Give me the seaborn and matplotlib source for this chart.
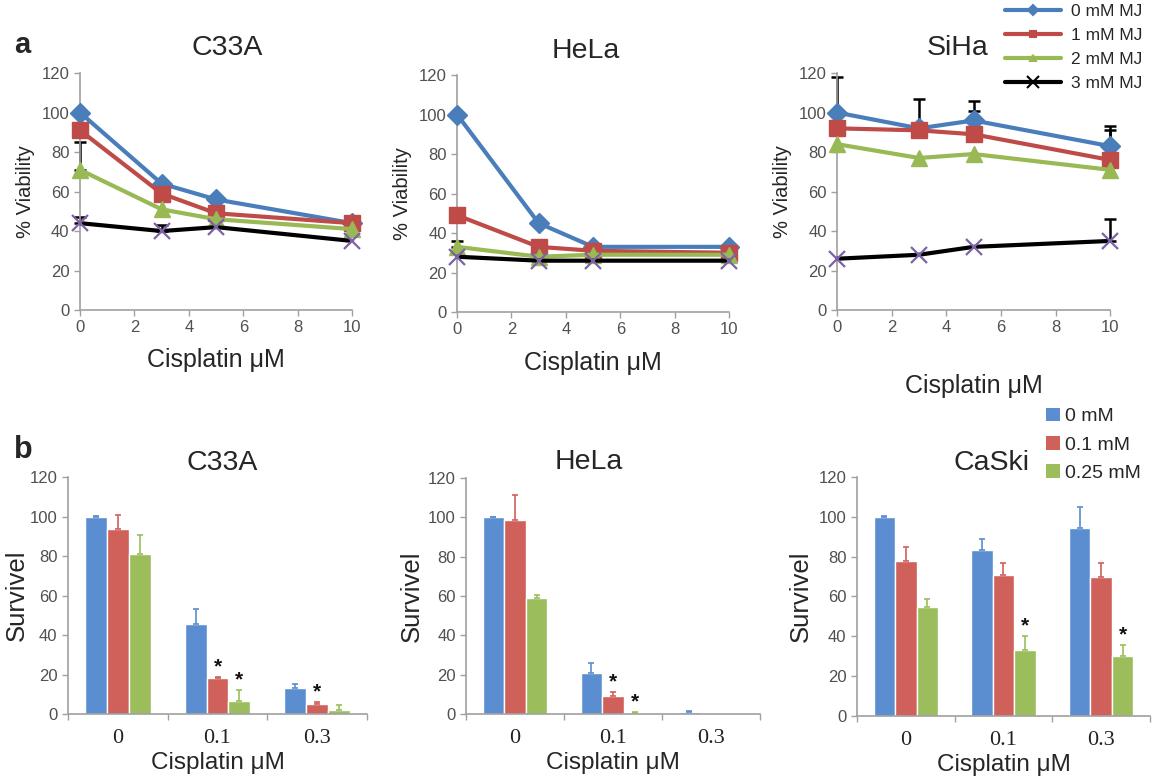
import numpy as np
import pandas as pd
import matplotlib
matplotlib.use("Agg")
import matplotlib.pyplot as plt
from matplotlib.lines import Line2D
from matplotlib.patches import Patch
from matplotlib.container import BarContainer
import seaborn as sns

# ---------------- data: panel a (viability, line charts) ----------------
cis_a = [0, 3, 5, 10]
mj_labels = ["0 mM MJ", "1 mM MJ", "2 mM MJ", "3 mM MJ"]

c33a_0 = [100, 64, 56, 44]
c33a_1 = [91, 59, 49, 44]
c33a_2 = [71, 51, 46, 41]
c33a_3 = [44, 40, 42, 35]
c33a_err = [[0, 0, 0, 0], [0, 0, 0, 0], [14, 0, 0, 0], [3, 3, 0, 0]]

hela_0 = [100, 45, 33, 33]
hela_1 = [49, 33, 31, 30]
hela_2 = [33, 28, 29, 29]
hela_3 = [28, 26, 26, 26]
hela_err = [[0, 0, 0, 0], [0, 0, 0, 0], [3, 0, 0, 0], [0, 0, 0, 0]]

siha_0 = [100, 92, 96, 83]
siha_1 = [92, 91, 89, 76]
siha_2 = [84, 77, 79, 71]
siha_3 = [26, 28, 32, 35]
siha_err = [[18, 15, 10, 10], [0, 0, 12, 15], [0, 0, 0, 0], [0, 0, 0, 11]]

# ---------------- data: panel b (survival, bar charts) ----------------
cis_b = ["0", "0.1", "0.3"]
conc_labels = ["0 mM", "0.1 mM", "0.25 mM"]

b_c33a = [[100, 45.5, 13], [93.5, 18, 5], [81, 6.7, 1.8]]
b_c33a_err = [[0.3, 7.5, 2.2], [7.5, 0.8, 0.9], [9.5, 5.5, 2.6]]
b_c33a_star = [[0, 0, 0], [0, 1, 1], [0, 1, 0]]

b_hela = [[100, 20.8, 0.9], [98.5, 9, 0.2], [59, 0.5, 0.1]]
b_hela_err = [[0.3, 5, 0.5], [13, 2, 0], [1.5, 0.5, 0]]
b_hela_star = [[0, 0, 0], [0, 1, 0], [0, 1, 0]]

b_caski = [[100, 83.5, 94.5], [77.8, 71, 69.8], [54.6, 33.3, 30]]
b_caski_err = [[0.3, 5.5, 10.5], [7, 5.8, 7], [4, 6.7, 5.5]]
b_caski_star = [[0, 0, 0], [0, 0, 0], [0, 1, 1]]

# ---------------- style ----------------
sns.set_theme(style="ticks")
plt.rcParams["font.family"] = ["Liberation Sans", "DejaVu Sans"]

line_colors = ["#4A7EBB", "#BE4B48", "#98B954", "#000000"]
line_markers = ["D", "s", "^", "x"]
marker_sizes = [10, 12, 11, 12]
xmark_color = "#7E62A6"
bar_colors = ["#5A8ED0", "#D0605A", "#9BBD5C"]
axis_gray = "#A0A0A0"
tick_gray = "#505050"

fig = plt.figure(figsize=(11.53, 7.83), dpi=100)

top_rects = [[0.0694, 0.604, 0.236, 0.3027],
             [0.3964, 0.6015, 0.236, 0.3027],
             [0.726, 0.604, 0.2368, 0.3027]]
bot_rects = [[0.059, 0.0881, 0.2593, 0.3027],
             [0.4042, 0.0881, 0.255, 0.3014],
             [0.7433, 0.0856, 0.254, 0.3052]]


def style_axes(ax):
    for s in ["top", "right"]:
        ax.spines[s].set_visible(False)
    for s in ["left", "bottom"]:
        ax.spines[s].set_color(axis_gray)
        ax.spines[s].set_linewidth(1.2)
    ax.tick_params(axis="both", colors=axis_gray, labelcolor=tick_gray,
                   direction="out", length=4, width=1.0, labelsize=12)


top_sets = [
    ("C33A", [c33a_0, c33a_1, c33a_2, c33a_3], c33a_err, (0.54, 1.105), 9),
    ("HeLa", [hela_0, hela_1, hela_2, hela_3], hela_err, (0.474, 1.10), 10),
    ("SiHa", [siha_0, siha_1, siha_2, siha_3], siha_err, (0.44, 1.105), 28),
]

for rect, (name, series, errs, tpos, lpad) in zip(top_rects, top_sets):
    ax = fig.add_axes(rect)
    x = np.array(cis_a, dtype=float)
    for i, vals in enumerate(series):
        mec = xmark_color if line_markers[i] == "x" else line_colors[i]
        sns.lineplot(x=x, y=vals, ax=ax, color=line_colors[i], lw=3.0,
                     marker=line_markers[i], markersize=marker_sizes[i],
                     mec=mec, mfc=line_colors[i], mew=1.6 if line_markers[i] == "x" else 1,
                     clip_on=False, zorder=3 + i * 0.1, legend=False)
    for i, vals in enumerate(series):
        e = np.array(errs[i], dtype=float)
        m = e > 0
        if m.any():
            ax.errorbar(x[m], np.array(vals)[m], yerr=[np.zeros(m.sum()), e[m]],
                        fmt="none", ecolor="black", elinewidth=1.8, capsize=4,
                        capthick=1.8, zorder=2.5, clip_on=False)
    ax.set_xlim(0, 10)
    ax.set_ylim(0, 120)
    ax.set_xticks([0, 2, 4, 6, 8, 10])
    ax.set_yticks([0, 20, 40, 60, 80, 100, 120])
    style_axes(ax)
    ax.set_xlabel("Cisplatin \u03bcM", fontsize=18, labelpad=lpad)
    ax.set_ylabel("% Viability", fontsize=14.5, labelpad=5)
    ax.text(tpos[0], tpos[1], name, transform=ax.transAxes, ha="center",
            va="center", fontsize=20.5)

bot_sets = [
    ("C33A", b_c33a, b_c33a_err, b_c33a_star, (0.515, 1.06), 1),
    ("HeLa", b_hela, b_hela_err, b_hela_star, (0.418, 1.068), 3),
    ("CaSki", b_caski, b_caski_err, b_caski_star, (0.46, 1.06), 4),
]

for rect, (name, vals, errs, stars, tpos, ypad) in zip(bot_rects, bot_sets):
    ax = fig.add_axes(rect)
    rows = []
    for h, lab in enumerate(conc_labels):
        for c, cat in enumerate(cis_b):
            rows.append({"dose": cat, "conc": lab, "val": vals[h][c]})
    df = pd.DataFrame(rows)
    sns.barplot(data=df, x="dose", y="val", hue="conc", order=cis_b,
                hue_order=conc_labels, palette=bar_colors, width=0.66,
                saturation=1, errorbar=None, ax=ax, legend=False, zorder=2)
    bar_conts = [cn for cn in ax.containers if isinstance(cn, BarContainer)]
    for h, cont in enumerate(bar_conts):
        for c, p in enumerate(cont.patches):
            xc = p.get_x() + p.get_width() / 2
            top = p.get_height()
            e = errs[h][c]
            if e > 0:
                ax.errorbar([xc], [top], yerr=[[0], [e]], fmt="none",
                            ecolor=bar_colors[h], elinewidth=1.2, capsize=2.5,
                            capthick=1.2, zorder=3)
            if stars[h][c]:
                ax.text(xc, top + e + 0.5, "*", ha="center", va="bottom",
                        fontsize=15, fontweight="bold", color="#111111")
    ax.set_xlim(-0.5, 2.5)
    ax.set_ylim(0, 120)
    ax.set_yticks([0, 20, 40, 60, 80, 100, 120])
    style_axes(ax)
    ax.set_xticks([-0.5, 0.5, 1.5, 2.5], minor=True)
    ax.tick_params(axis="x", which="major", length=0, pad=11)
    ax.tick_params(axis="x", which="minor", length=4, color=axis_gray)
    for lbl in ax.get_xticklabels():
        lbl.set_fontfamily(["Liberation Serif", "DejaVu Serif"])
        lbl.set_fontsize(16)
        lbl.set_color("#222222")
    ax.set_xlabel("Cisplatin \u03bcM", fontsize=17.5, labelpad=3)
    ax.set_ylabel("Survivel", fontsize=18.5, labelpad=ypad)
    ax.text(tpos[0], tpos[1], name, transform=ax.transAxes, ha="center",
            va="center", fontsize=20.5)

# legends
line_handles = [Line2D([0], [0], color=line_colors[i], lw=3, marker=line_markers[i],
                       markersize=5 if line_markers[i] != "x" else 8,
                       mfc=line_colors[i], mec=line_colors[i], mew=1.5)
                for i in range(4)]
fig.legend(line_handles, mj_labels, loc="upper right", bbox_to_anchor=(1.0, 1.008),
           frameon=False, fontsize=12.5, handlelength=3.2, labelspacing=0.5,
           handletextpad=0.6, borderaxespad=0.2)

bar_handles = [Patch(facecolor=c, edgecolor="none") for c in bar_colors]
fig.legend(bar_handles, conc_labels, loc="upper right", bbox_to_anchor=(1.0, 0.494),
           frameon=False, fontsize=14, handlelength=0.7, handleheight=0.7,
           labelspacing=0.55, handletextpad=0.3, borderaxespad=0.2)

fig.text(0.012, 0.942, "a", fontsize=21, fontweight="bold", va="center")
fig.text(0.012, 0.425, "b", fontsize=22, fontweight="bold", va="center")

fig.savefig("out.png", dpi=100, facecolor="white")
